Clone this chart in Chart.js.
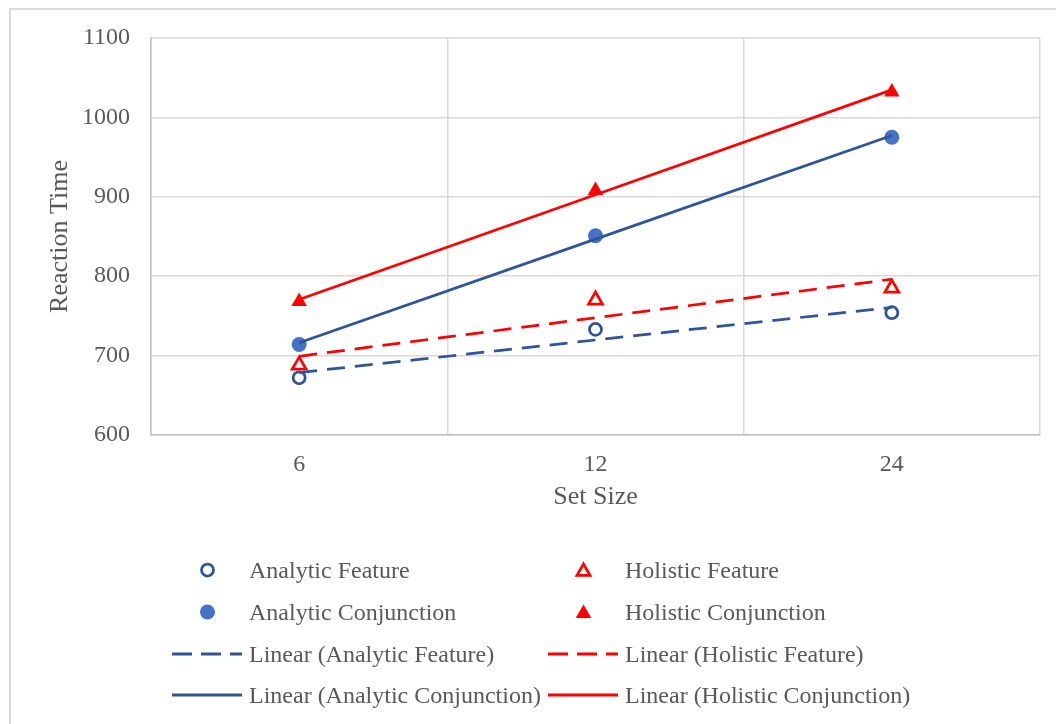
<!DOCTYPE html>
<html>
<head>
<meta charset="utf-8">
<title>Reaction Time by Set Size</title>
<script src="https://cdn.jsdelivr.net/npm/chart.js@4.4.1/dist/chart.umd.min.js"></script>
<style>
  html, body { margin: 0; padding: 0; background: #ffffff; overflow: hidden; }
  body { width: 1056px; height: 724px; position: relative; font-family: "Liberation Serif", "Times New Roman", serif; }
  #frame { position: absolute; left: 9px; top: 8px; width: 1100px; height: 800px;
           border-left: 2px solid #d9d9d9; border-top: 2px solid #d9d9d9; }
  #wrap { position: absolute; left: 0; top: 0; width: 1056px; height: 724px; }
  .lg-item { position: absolute; height: 42px; line-height: 42px; font-size: 24px; color: #595959; white-space: nowrap; }
  .lg-sym { position: absolute; }
</style>
</head>
<body>
<div id="frame"></div>
<div id="wrap"><canvas id="chart" width="1056" height="724"></canvas></div>
<div id="legend"></div>
<script>
// Set sizes on the category axis
const setSizes = ['6', '12', '24'];

// Mean reaction times per condition
const analyticFeature = [672, 733, 754];
const holisticFeature = [688, 770, 785];
const analyticConjunction = [714, 851, 975];
const holisticConjunction = [768, 908, 1032];

// Value axis ticks
const yTicks = [600, 700, 800, 900, 1000, 1100];

const darkBlue = '#2F5597';
const midBlue = '#4472C4';
const red = '#FF0000';
const textGrey = '#595959';
const gridGrey = '#d9d9d9';

// Least-squares linear trendline over category positions 1..n
function linearTrend(values) {
  const n = values.length;
  const xs = values.map((_, i) => i + 1);
  const mx = xs.reduce((a, b) => a + b, 0) / n;
  const my = values.reduce((a, b) => a + b, 0) / n;
  let sxy = 0, sxx = 0;
  for (let i = 0; i < n; i++) { sxy += (xs[i] - mx) * (values[i] - my); sxx += (xs[i] - mx) ** 2; }
  const slope = sxy / sxx;
  const icpt = my - slope * mx;
  return xs.map(x => icpt + slope * x);
}

const dash = [18, 10];
const trendWidth = 2.75;

const datasets = [
  { label: 'Linear (Analytic Feature)', data: linearTrend(analyticFeature), borderColor: darkBlue, borderWidth: trendWidth,
    borderDash: dash, pointRadius: 0, fill: false, order: 0 },
  { label: 'Linear (Holistic Feature)', data: linearTrend(holisticFeature), borderColor: red, borderWidth: trendWidth,
    borderDash: dash, pointRadius: 0, fill: false, order: 0 },
  { label: 'Linear (Analytic Conjunction)', data: linearTrend(analyticConjunction), borderColor: darkBlue, borderWidth: trendWidth,
    pointRadius: 0, fill: false, order: 0 },
  { label: 'Linear (Holistic Conjunction)', data: linearTrend(holisticConjunction), borderColor: red, borderWidth: trendWidth,
    pointRadius: 0, fill: false, order: 0 },
  { label: 'Analytic Feature', data: analyticFeature, showLine: false, pointStyle: 'circle', pointRadius: 6,
    pointBorderWidth: 2.75, pointBorderColor: darkBlue, pointBackgroundColor: '#ffffff', order: 1 },
  { label: 'Holistic Feature', data: holisticFeature, showLine: false, pointStyle: 'triangle', pointRadius: 8,
    pointBorderWidth: 2.75, pointBorderColor: red, pointBackgroundColor: '#ffffff', order: 1 },
  { label: 'Analytic Conjunction', data: analyticConjunction, showLine: false, pointStyle: 'circle', pointRadius: 7.5,
    pointBorderWidth: 0, pointBorderColor: midBlue, pointBackgroundColor: midBlue, order: 1 },
  { label: 'Holistic Conjunction', data: holisticConjunction, showLine: false, pointStyle: 'triangle', pointRadius: 9,
    pointBorderWidth: 0, pointBorderColor: red, pointBackgroundColor: red, order: 1 }
];

const fontFamily = '"Liberation Serif", "Times New Roman", serif';

new Chart(document.getElementById('chart'), {
  type: 'line',
  data: { labels: setSizes, datasets },
  options: {
    responsive: false,
    animation: false,
    layout: { padding: { left: 0, top: 38, right: 16, bottom: 199 } },
    plugins: { legend: { display: false }, tooltip: { enabled: false } },
    elements: { line: { tension: 0 }, point: { hoverRadius: 0 } },
    scales: {
      x: {
        type: 'category',
        offset: true,
        grid: { offset: true, color: gridGrey, lineWidth: 1.5, drawTicks: false },
        border: { color: '#bfbfbf', width: 1.5 },
        ticks: { color: textGrey, font: { family: fontFamily, size: 24 }, padding: 15 },
        title: { display: true, text: 'Set Size', color: textGrey, font: { family: fontFamily, size: 26 },
                 padding: { top: 0, bottom: 12 } },
        afterFit: s => { s.height = 90; }
      },
      y: {
        min: yTicks[0],
        max: yTicks[yTicks.length - 1],
        afterBuildTicks: s => { s.ticks = yTicks.map(v => ({ value: v })); },
        grid: { color: gridGrey, lineWidth: 1.5, drawTicks: false },
        border: { color: '#bfbfbf', width: 1.5 },
        ticks: { color: textGrey, font: { family: fontFamily, size: 24 }, padding: 21,
                 callback: v => String(v) },
        title: { display: true, text: 'Reaction Time', color: textGrey, font: { family: fontFamily, size: 26 },
                 padding: { top: 45, bottom: 0 } },
        afterFit: s => { s.width = 151; }
      }
    }
  }
});

// Two-column legend below the plot
const legendItems = [
  { text: 'Analytic Feature', col: 0, row: 0, sym: 'openCircle' },
  { text: 'Holistic Feature', col: 1, row: 0, sym: 'openTriangle' },
  { text: 'Analytic Conjunction', col: 0, row: 1, sym: 'filledCircle' },
  { text: 'Holistic Conjunction', col: 1, row: 1, sym: 'filledTriangle' },
  { text: 'Linear (Analytic Feature)', col: 0, row: 2, sym: 'dashBlue' },
  { text: 'Linear (Holistic Feature)', col: 1, row: 2, sym: 'dashRed' },
  { text: 'Linear (Analytic Conjunction)', col: 0, row: 3, sym: 'solidBlue' },
  { text: 'Linear (Holistic Conjunction)', col: 1, row: 3, sym: 'solidRed' }
];
const rowCenters = [569.5, 611.5, 653.5, 695];
const colText = [249, 625];
const colSymLeft = [172, 548];

function symbolSvg(kind) {
  const w = 72, h = 42, cx = 35.5, cy = 21;
  let inner = '';
  const tri = (r) => [0, 1, 2].map(k => {
    const a = k * 2 * Math.PI / 3;
    return (cx + Math.sin(a) * r).toFixed(2) + ',' + (cy + 1.5 - Math.cos(a) * r).toFixed(2);
  }).join(' ');
  const line = (color, dashed) => `<line x1="0" y1="${cy}" x2="70" y2="${cy}" stroke="${color}" stroke-width="3"${dashed ? ' stroke-dasharray="20 9"' : ''}/>`;
  switch (kind) {
    case 'openCircle': inner = `<circle cx="${cx}" cy="${cy}" r="6" fill="#fff" stroke="${darkBlue}" stroke-width="2.75"/>`; break;
    case 'filledCircle': inner = `<circle cx="${cx}" cy="${cy}" r="7.5" fill="${midBlue}"/>`; break;
    case 'openTriangle': inner = `<polygon points="${tri(7.5)}" fill="#fff" stroke="${red}" stroke-width="2.75"/>`; break;
    case 'filledTriangle': inner = `<polygon points="${tri(9)}" fill="${red}"/>`; break;
    case 'dashBlue': inner = line(darkBlue, true); break;
    case 'dashRed': inner = line(red, true); break;
    case 'solidBlue': inner = line(darkBlue, false); break;
    case 'solidRed': inner = line(red, false); break;
  }
  return `<svg width="${w}" height="${h}" viewBox="0 0 ${w} ${h}">${inner}</svg>`;
}

const legend = document.getElementById('legend');
legendItems.forEach(it => {
  const top = rowCenters[it.row] - 21;
  const sym = document.createElement('div');
  sym.className = 'lg-sym';
  sym.style.left = colSymLeft[it.col] + 'px';
  sym.style.top = top + 'px';
  sym.innerHTML = symbolSvg(it.sym);
  legend.appendChild(sym);
  const label = document.createElement('div');
  label.className = 'lg-item';
  label.style.left = colText[it.col] + 'px';
  label.style.top = top + 'px';
  label.textContent = it.text;
  legend.appendChild(label);
});
</script>
</body>
</html>
